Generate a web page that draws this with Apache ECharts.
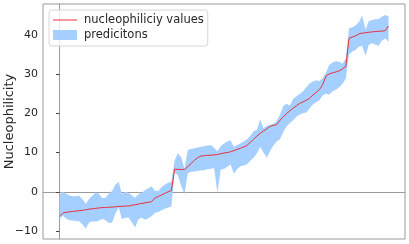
<!DOCTYPE html>
<html>
<head>
<meta charset="utf-8">
<script src="https://cdn.jsdelivr.net/npm/echarts@6/dist/echarts.min.js"></script>
<style>html,body{margin:0;padding:0;background:#fff}#c{width:409px;height:244px}</style>
</head>
<body>
<div id="c"></div>
<script>
// sample index 0..100
const values = [
 -6.2,-5.4,-5.2,-5.1,-5.0,-4.9,-4.8,-4.7,-4.6,-4.4,
 -4.3,-4.2,-4.1,-4.0,-4.0,-3.9,-3.9,-3.8,-3.7,-3.7,
 -3.6,-3.6,-3.4,-3.3,-3.1,-2.95,-2.8,-2.65,-2.5,-1.6,
 -1.2,-0.8,-0.4,0.0,0.3,5.8,5.7,5.7,5.7,6.4,
 7.2,8.0,8.7,9.1,9.2,9.3,9.3,9.4,9.5,9.7,
 9.9,10.0,10.2,10.5,10.8,11.1,11.4,11.8,12.6,13.4,
 14.2,14.9,15.5,16.0,16.7,16.9,17.1,18.2,19.1,19.9,
 20.6,21.3,21.9,22.5,22.9,23.3,23.8,24.6,25.3,26.0,
 27.3,29.5,30.0,30.3,30.5,30.8,31.3,31.9,39.1,39.4,
 39.7,40.2,40.4,40.5,40.6,40.7,40.8,40.85,40.9,41.0,
 42.2
];
const upper = [
 -0.9,0.1,-0.5,-0.9,-1.1,-1.1,-1.0,-1.9,-3.0,-1.8,
 -1.0,-0.1,-0.5,-1.6,-1.5,-0.5,0.2,1.8,2.6,-0.6,
 0.0,-0.2,-0.9,-1.5,-0.6,-0.2,0.4,0.9,1.4,0.3,
 0.2,1.2,1.8,2.3,2.6,8.0,9.8,8.8,5.9,10.7,
 10.9,11.1,11.3,11.5,11.6,11.8,11.9,11.2,10.3,11.6,
 12.3,12.8,13.1,11.4,11.9,12.3,12.8,13.4,14.3,15.4,
 15.8,18.5,16.2,16.8,17.0,17.3,18.0,19.6,21.8,22.4,
 22.0,23.6,24.3,24.9,25.6,26.6,27.6,28.1,28.4,28.2,
 28.9,30.4,32.3,32.9,33.2,33.1,32.6,33.9,41.6,41.9,
 42.3,43.2,44.8,41.3,43.4,43.7,43.9,44.0,44.6,45.0,
 44.6
];
const lower = [
 -6.9,-6.1,-6.8,-7.2,-7.3,-7.4,-7.5,-8.3,-9.3,-7.8,
 -7.5,-7.6,-7.3,-6.9,-7.2,-7.9,-7.8,-5.5,-4.0,-7.0,
 -6.6,-6.5,-7.8,-9.1,-7.0,-6.6,-7.1,-6.7,-6.2,-5.4,
 -5.1,-4.7,-4.3,-4.0,-3.8,5.0,4.2,1.5,-0.6,4.8,
 5.1,5.2,5.3,5.5,5.5,5.8,5.9,6.0,-0.2,5.7,
 5.8,6.4,7.0,4.6,5.8,6.5,6.7,7.0,7.9,8.7,
 9.8,11.5,10.0,8.7,10.4,11.8,12.8,13.4,15.2,16.6,
 17.5,18.2,19.1,19.7,20.0,20.2,21.2,22.2,22.8,23.3,
 24.6,25.0,24.7,25.6,26.0,26.6,27.5,28.8,35.0,35.7,
 36.1,37.0,37.2,34.6,37.4,37.9,37.4,37.2,38.5,39.0,
 38.2
];
const yTicks = [-10, 0, 10, 20, 30, 40];
const lineName = 'nucleophiliciy values';
const bandName = 'predicitons';

const bandData = upper.map((v, i) => [i, lower[i], v]);
const lineData = values.map((v, i) => [i, v]);
const BAND = '#a5cfff';
const RED = '#e8303a';

const chart = echarts.init(document.getElementById('c'), null, {renderer: 'canvas'});
chart.setOption({
  animation: false,
  grid: {left: 43, top: 4, right: 4, bottom: 5, show: true, borderColor: '#9a9a9a', borderWidth: 1,
         outerBoundsMode: 'none', containLabel: false},
  legend: {
    left: 49, top: 10, orient: 'vertical',
    padding: [4, 4, 5, 4],
    itemWidth: 24, itemHeight: 10, itemGap: 3,
    backgroundColor: 'rgba(255,255,255,0.8)',
    borderColor: '#d6d6d6', borderWidth: 1, borderRadius: 3,
    textStyle: {fontFamily: 'DejaVu Sans', fontSize: 11.5, color: '#262626', padding: [0, 0, 0, 2]},
    data: [
      {name: lineName, icon: 'path://M0,0H24V1H0Z', itemStyle: {color: RED, borderWidth: 0}, lineStyle: {width: 0}},
      {name: bandName, icon: 'rect', itemStyle: {color: BAND, borderWidth: 0}}
    ]
  },
  xAxis: {
    type: 'value', min: -5, max: 105,
    axisLine: {show: true, lineStyle: {color: '#9a9a9a'}}, axisTick: {show: false}, axisLabel: {show: false}, splitLine: {show: false}
  },
  yAxis: {
    type: 'value', min: -12, max: 47.8,
    name: 'Nucleophilicity', nameLocation: 'middle', nameGap: 27, nameMoveOverlap: false,
    nameTextStyle: {fontFamily: 'DejaVu Sans', fontSize: 13, color: '#262626'},
    axisLine: {show: true, lineStyle: {color: '#9a9a9a'}},
    axisTick: {show: true, length: 3.5, lineStyle: {color: '#444'}, customValues: yTicks},
    axisLabel: {
      fontFamily: 'DejaVu Sans', fontSize: 11, color: '#262626', margin: 5,
      customValues: yTicks,
      formatter: v => (v < 0 ? '\u2212' + Math.abs(v) : String(v))
    },
    splitLine: {show: false}
  },
  series: [
    {
      name: bandName, type: 'custom', data: bandData,
      itemStyle: {color: BAND},
      encode: {x: 0, y: [1, 2]},
      renderItem: function (params, api) {
        if (params.dataIndex !== 0) return null;
        const pts = [];
        for (let i = 0; i < upper.length; i++) pts.push(api.coord([i, upper[i]]));
        for (let i = lower.length - 1; i >= 0; i--) pts.push(api.coord([i, lower[i]]));
        return {type: 'polygon', shape: {points: pts}, style: {fill: BAND, stroke: null}};
      }
    },
    {
      name: lineName, type: 'line', data: lineData, symbol: 'none',
      itemStyle: {color: RED},
      lineStyle: {color: RED, width: 1}
    }
  ]
});
</script>
</body>
</html>
